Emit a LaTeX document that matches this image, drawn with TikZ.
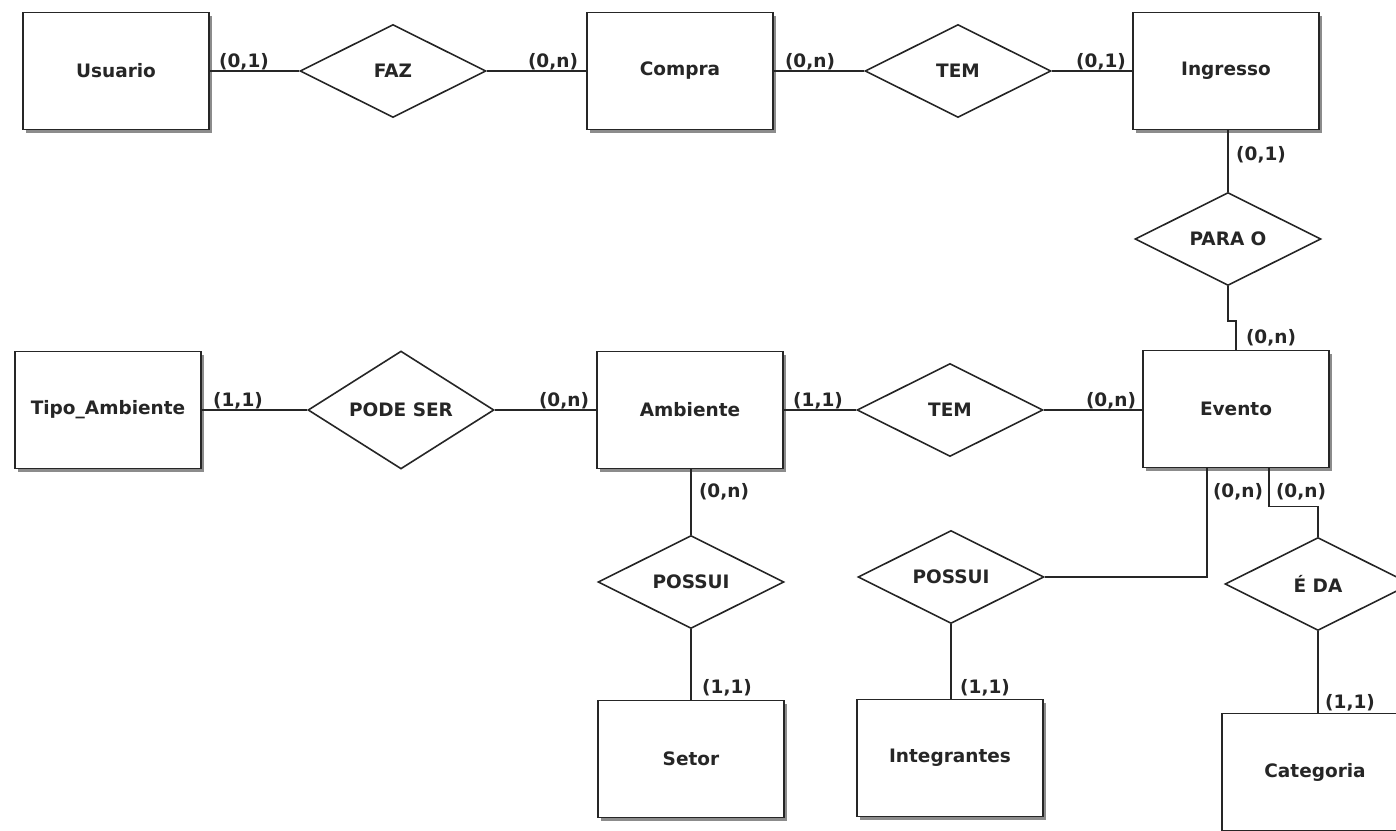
\documentclass[tikz,border=0pt]{standalone}
\usepackage{fontspec}
\setmainfont{DejaVu Sans}
\usetikzlibrary{shapes.geometric,shadows}
\definecolor{ink}{HTML}{262626}
\definecolor{shade}{HTML}{8C8C8C}
\begin{document}
\begin{tikzpicture}[x=1pt,y=-1pt,
  every node/.style={font=\fontsize{18.5}{22}\selectfont\bfseries, text=ink},
  entity/.style={rectangle, draw=ink, line width=1.8pt, fill=white,
    minimum width=186pt, minimum height=117pt, inner sep=0pt,
    drop shadow={shadow xshift=3.2pt, shadow yshift=-3.2pt, fill=shade, opacity=1}},
  relation/.style={diamond, draw=ink, line width=1.6pt, fill=white,
    minimum width=186pt, minimum height=93pt, inner sep=0pt},
  card/.style={inner sep=0pt},
  link/.style={draw=ink, line width=1.8pt}]
\clip (0,0) rectangle (1396,830);
\useasboundingbox (0,0) rectangle (1396,830);
\fill[white] (0,0) rectangle (1396,830);

% entities
\node[entity] (usuario)     at (116,71)   {Usuario};
\node[entity] (compra)      at (680,71)   {Compra};
\node[entity] (ingresso)    at (1226,71)  {Ingresso};
\node[entity] (tipo)        at (108,410)  {Tipo\_Ambiente};
\node[entity] (ambiente)    at (690,410)  {Ambiente};
\node[entity] (evento)      at (1236,409) {Evento};
\node[entity] (setor)       at (691,759)  {Setor};
\node[entity] (integrantes) at (950,758)  {Integrantes};
\node[entity] (categoria)   at (1315,772) {Categoria};

% relationships
\node[relation] (faz)     at (393,71)   {FAZ};
\node[relation] (tem1)    at (958,71)   {TEM};
\node[relation] (parao)   at (1228,239) {PARA O};
\node[relation] (podeser) at (401,410)  {PODE SER};
\node[relation] (tem2)    at (950,410)  {TEM};
\node[relation] (possui1) at (691,582)  {POSSUI};
\node[relation] (possui2) at (951,577)  {POSSUI};
\node[relation] (eda)     at (1318,584) {É DA};

% connectors
\draw[link] (usuario.east) -- (usuario.east -| faz.west);
\draw[link] (faz.east) -- (faz.east -| compra.west);
\draw[link] (compra.east) -- (compra.east -| tem1.west);
\draw[link] (tem1.east) -- (tem1.east -| ingresso.west);
\draw[link] (parao.north |- ingresso.south) -- (parao.north);
\draw[link] (parao.south) -- ++(0,35) -| (evento.north);
\draw[link] (tipo.east) -- (tipo.east -| podeser.west);
\draw[link] (podeser.east) -- (podeser.east -| ambiente.west);
\draw[link] (ambiente.east) -- (ambiente.east -| tem2.west);
\draw[link] (tem2.east) -- (tem2.east -| evento.west);
\draw[link] (possui1.north |- ambiente.south) -- (possui1.north);
\draw[link] (possui1.south) -- (possui1.south |- setor.north);
\draw[link] (possui2.east) -| ([xshift=-29pt]evento.south);
\draw[link] (possui2.south) -- (possui2.south |- integrantes.north);
\draw[link] ([xshift=33pt]evento.south) -- ++(0,38) -| (eda.north);
\draw[link] (eda.south) -- (eda.south |- categoria.north);

% cardinalities
\node[card] (c1)  at (244,62)   {(0,1)};
\node[card] (c2)  at (553,62)   {(0,n)};
\node[card] (c3)  at (810,62)   {(0,n)};
\node[card] (c4)  at (1101,62)  {(0,1)};
\node[card] (c5)  at (1261,155) {(0,1)};
\node[card] (c6)  at (1271,338) {(0,n)};
\node[card] (c7)  at (238,401)  {(1,1)};
\node[card] (c8)  at (564,401)  {(0,n)};
\node[card] (c9)  at (818,401)  {(1,1)};
\node[card] (c10) at (1111,401) {(0,n)};
\node[card] (c11) at (724,492)  {(0,n)};
\node[card] (c12) at (1238,492) {(0,n)};
\node[card] (c13) at (1301,492) {(0,n)};
\node[card] (c14) at (727,688)  {(1,1)};
\node[card] (c15) at (985,688)  {(1,1)};
\node[card] (c16) at (1350,703) {(1,1)};
\end{tikzpicture}
\end{document}
